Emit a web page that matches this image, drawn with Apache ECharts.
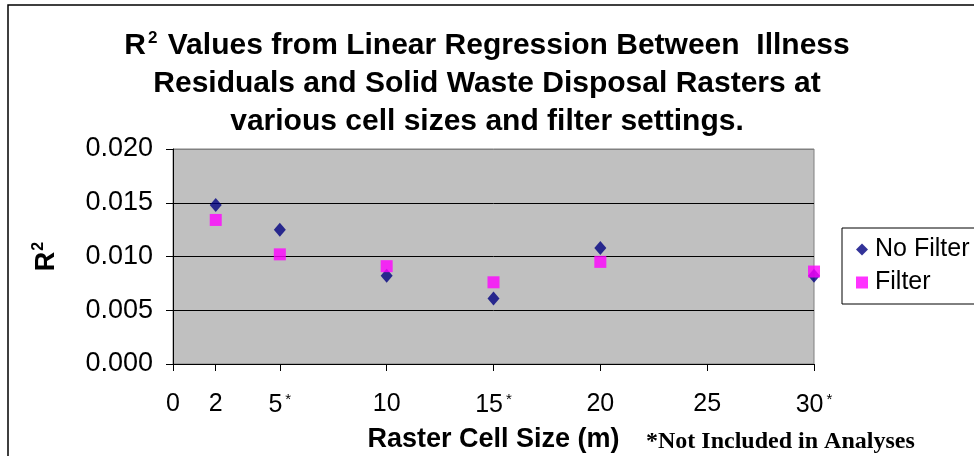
<!DOCTYPE html>
<html>
<head>
<meta charset="utf-8">
<script src="https://cdn.jsdelivr.net/npm/echarts@6/dist/echarts.min.js"></script>
<style>
html, body { margin: 0; padding: 0; background: #fff; }
#chart { width: 974px; height: 456px; }
</style>
</head>
<body>
<div id="chart"></div>
<script>
// raster cell size (m) and R^2 for each run
var cellSizes = [2, 5, 10, 15, 20, 30];
var noFilter = [0.0148, 0.0125, 0.0082, 0.0061, 0.0108, 0.0082];
var withFilter = [0.0134, 0.0102, 0.0091, 0.0076, 0.0095, 0.0086];
var xTicks = [0, 2, 5, 10, 15, 20, 25, 30];
var starred = [5, 15, 30];   // not included in analyses
var yTicks = [0, 0.005, 0.010, 0.015, 0.020];

function pairs(ys) {
    return cellSizes.map(function (x, i) { return [x, ys[i]]; });
}

var chart = echarts.init(document.getElementById('chart'));
var font = 'Liberation Sans, Arial, sans-serif';

var option = {
    backgroundColor: '#fff',
    animation: false,
    title: {
        text: '{b|R}{sup|2}{b| Values from Linear Regression Between  Illness}\n' +
              '{b|Residuals and Solid Waste Disposal Rasters at}\n' +
              '{b|various cell sizes and filter settings.}',
        left: 'center',
        top: 22,
        textStyle: {
            rich: {
                b: { fontFamily: font, fontWeight: 'bold', fontSize: 30, color: '#000', lineHeight: 38 },
                sup: { fontFamily: font, fontWeight: 'bold', fontSize: 17, color: '#000', lineHeight: 38, padding: [0, 2, 16, 2] }
            }
        }
    },
    grid: {
        left: 173,
        right: 160,
        top: 149,
        bottom: 92,
        show: true,
        backgroundColor: '#c0c0c0',
        borderColor: '#808080',
        borderWidth: 1
    },
    legend: {
        orient: 'vertical',
        left: 842,
        top: 228,
        width: 131,
        padding: [9, 10, 9, 14],
        itemGap: 8,
        itemWidth: 12,
        itemHeight: 12,
        borderColor: '#000',
        borderWidth: 1,
        backgroundColor: '#fff',
        textStyle: { fontFamily: font, fontSize: 25, color: '#000', padding: [0, 0, 0, 2] },
        data: [
            { name: 'No Filter', icon: 'diamond' },
            { name: 'Filter', icon: 'rect' }
        ]
    },
    xAxis: {
        type: 'value',
        min: 0,
        max: 30,
        interval: 5,
        name: 'Raster Cell Size (m)',
        nameLocation: 'middle',
        nameGap: 62,
        nameTextStyle: { fontFamily: font, fontWeight: 'bold', fontSize: 27, color: '#000' },
        axisLine: { show: true, lineStyle: { color: '#000', width: 1 } },
        axisTick: { show: true, inside: false, length: 7, customValues: xTicks, lineStyle: { color: '#000' } },
        splitLine: { show: false },
        axisLabel: {
            margin: 28,
            customValues: xTicks,
            formatter: function (v) {
                return starred.indexOf(v) >= 0 ? '{n|' + v + '}{s|*}' : '{n|' + v + '}';
            },
            rich: {
                n: { fontFamily: font, fontSize: 25, color: '#000' },
                s: { fontFamily: font, fontSize: 15, color: '#000', padding: [0, 0, 12, 3] }
            }
        }
    },
    yAxis: {
        type: 'value',
        min: yTicks[0],
        max: yTicks[yTicks.length - 1],
        interval: 0.005,
        name: '{b|R}{sup|2}',
        nameLocation: 'middle',
        nameGap: 111,
        nameRotate: 90,
        nameTextStyle: {
            rich: {
                b: { fontFamily: font, fontWeight: 'bold', fontSize: 27, color: '#000' },
                sup: { fontFamily: font, fontWeight: 'bold', fontSize: 16, color: '#000', padding: [0, 0, 15, 1] }
            }
        },
        axisLine: { show: true, lineStyle: { color: '#000', width: 1 } },
        axisTick: { show: true, inside: false, length: 7, lineStyle: { color: '#000' } },
        splitLine: { show: true, lineStyle: { color: ['#000', '#000', '#000', '#000', '#808080'], width: 1 } },
        axisLabel: {
            margin: 20,
            fontFamily: font,
            fontSize: 27,
            color: '#000',
            formatter: function (v) { return v.toFixed(3); }
        }
    },
    series: [
        {
            name: 'No Filter',
            type: 'scatter',
            symbol: 'diamond',
            symbolSize: [12, 14],
            itemStyle: { color: '#000080' },
            data: pairs(noFilter),
            z: 2
        },
        {
            name: 'Filter',
            type: 'scatter',
            symbol: 'rect',
            symbolSize: 12,
            itemStyle: { color: '#ff00ff' },
            data: pairs(withFilter),
            z: 3
        }
    ],
    graphic: [
        {
            type: 'rect',
            shape: { x: 8, y: 5, width: 1000, height: 500 },
            style: { fill: 'none', stroke: '#000', lineWidth: 1.5 },
            silent: true
        },
        {
            type: 'text',
            left: 646,
            top: 430,
            style: {
                text: '*Not Included in Analyses',
                font: 'bold 24px "Liberation Serif", "Times New Roman", serif',
                fill: '#000'
            }
        }
    ]
};
chart.setOption(option);
</script>
</body>
</html>
